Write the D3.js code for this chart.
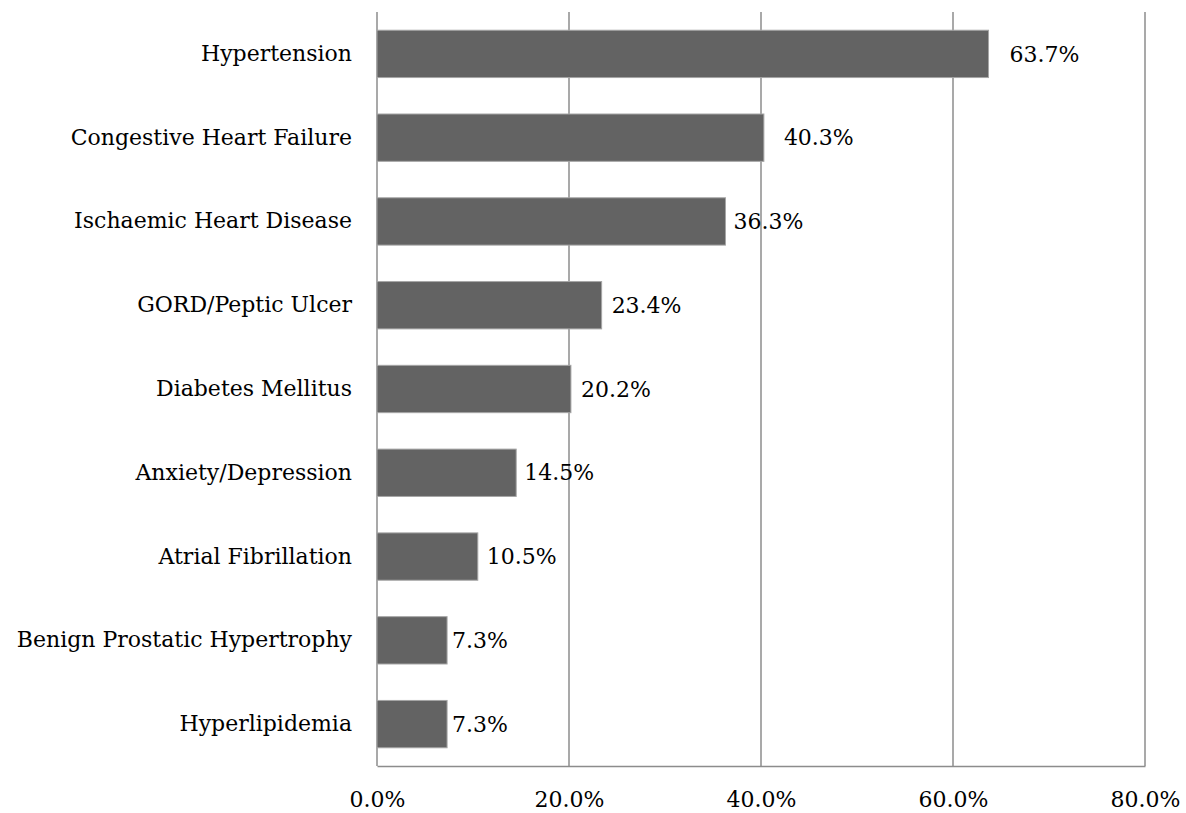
<!DOCTYPE html>
<html lang="en">
<head>
    <meta charset="utf-8">
    <title>Comorbidities bar chart</title>
    <style>
        body { margin: 0; background: #fff; }
        text { font-family: "DejaVu Serif", "Liberation Serif", serif; fill: #000; }
        .bar { fill: #636363; stroke: #a6a6a6; stroke-width: 1; }
        .grid line { stroke: #8c8c8c; stroke-width: 1.5; }
    </style>
</head>
<body>
<script src="https://cdn.jsdelivr.net/npm/d3@7"></script>
<script>
    // data
    var categories = ["Hypertension", "Congestive Heart Failure", "Ischaemic Heart Disease",
        "GORD/Peptic Ulcer", "Diabetes Mellitus", "Anxiety/Depression",
        "Atrial Fibrillation", "Benign Prostatic Hypertrophy", "Hyperlipidemia"];
    var values = [63.7, 40.3, 36.3, 23.4, 20.2, 14.5, 10.5, 7.3, 7.3];
    var xTicks = [0, 20, 40, 60, 80];

    // label gaps after bar end (labels were nudged by hand in the original)
    var labelGap = [21, 20, 8, 10, 10, 8, 9, 5, 5];

    var fontSize = 22;

    var margin = {top: 12, right: 41, bottom: 47, left: 377},
        width = 1186 - margin.left - margin.right,
        height = 813 - margin.top - margin.bottom;

    var x = d3.scaleLinear().domain([0, 80]).range([0, width]);
    var y = d3.scaleBand().domain(categories).range([0, height]).paddingInner(0.435).paddingOuter(0.2175);

    var svg = d3.select("body").append("svg")
        .attr("width", 1186)
        .attr("height", 813)
        .append("g")
        .attr("transform", "translate(" + margin.left + "," + margin.top + ")");

    // vertical gridlines
    svg.append("g")
        .attr("class", "grid")
        .selectAll("line")
        .data(xTicks)
        .enter().append("line")
        .attr("x1", function(d) { return x(d); })
        .attr("x2", function(d) { return x(d); })
        .attr("y1", 0)
        .attr("y2", height);

    svg.selectAll(".bar")
        .data(values)
        .enter().append("rect")
        .attr("class", "bar")
        .attr("x", 0)
        .attr("y", function(d, i) { return y(categories[i]); })
        .attr("width", function(d) { return x(d); })
        .attr("height", y.bandwidth());

    // bottom axis line + labels
    var xAxis = svg.append("g")
        .attr("transform", "translate(0," + height + ")")
        .call(d3.axisBottom(x).tickValues(xTicks).tickSize(0).tickPadding(25)
            .tickFormat(function(d) { return d.toFixed(1) + "%"; }));
    xAxis.select(".domain").attr("stroke", "#8c8c8c").attr("stroke-width", 1.5);
    xAxis.selectAll("text").attr("font-size", fontSize).attr("font-family", null);

    // left axis labels
    var yAxis = svg.append("g")
        .call(d3.axisLeft(y).tickSize(0).tickPadding(25));
    yAxis.select(".domain").remove();
    yAxis.selectAll("text").attr("font-size", fontSize).attr("font-family", null);

    // value labels
    svg.selectAll(".label")
        .data(values)
        .enter().append("text")
        .attr("class", "label")
        .attr("x", function(d, i) { return x(d) + labelGap[i]; })
        .attr("y", function(d, i) { return y(categories[i]) + y.bandwidth() / 2; })
        .attr("dy", "0.35em")
        .attr("font-size", fontSize)
        .text(function(d) { return d.toFixed(1) + "%"; });
</script>
</body>
</html>
